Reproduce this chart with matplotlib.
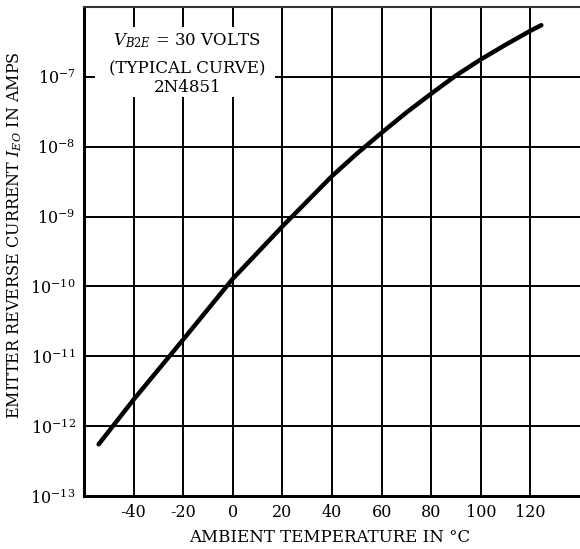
import matplotlib
matplotlib.use('Agg')
import matplotlib.pyplot as plt
from matplotlib.patches import Rectangle

# Typical curve (log10 of amps)
temp_c = [-54.1, -40, -20, 0, 20, 30, 40, 50, 60, 70, 80, 90, 100, 110, 120, 124.4]
log_current = [-12.26, -11.62, -10.76, -9.89, -9.14, -8.78, -8.42, -8.10, -7.80,
               -7.51, -7.24, -6.98, -6.75, -6.54, -6.34, -6.26]
current_a = [10 ** v for v in log_current]

x_ticks = [-40, -20, 0, 20, 40, 60, 80, 100, 120]
y_ticks = [1e-13, 1e-12, 1e-11, 1e-10, 1e-9, 1e-8, 1e-7]

plt.rcParams['font.family'] = 'DejaVu Serif'
plt.rcParams['mathtext.fontset'] = 'dejavuserif'

fig = plt.figure(figsize=(5.8, 5.49), dpi=100)
ax = fig.add_axes([0.1448, 0.0965, 0.8552, 0.8907])

ax.set_yscale('log')
ax.set_xlim(-60, 140)
ax.set_ylim(1e-13, 1e-6)
ax.set_xticks(x_ticks)
ax.set_xticklabels([str(t) for t in x_ticks])
ax.set_yticks(y_ticks)
ax.set_yticklabels([r'$10^{-%d}$' % k for k in range(13, 6, -1)])
ax.minorticks_off()
ax.tick_params(length=0, labelsize=11.5, pad=6)

ax.grid(True, color='black', linewidth=1.4)
for side in ['left', 'bottom']:
    ax.spines[side].set_linewidth(2.2)
ax.spines['top'].set_linewidth(1.5)
ax.spines['top'].set_color('#333333')
ax.spines['right'].set_visible(False)

ax.plot(temp_c, current_a, color='black', linewidth=3.2,
        solid_capstyle='round', solid_joinstyle='round', zorder=5)

# white patch behind the annotation, covering the grid
ax.add_patch(Rectangle((0.022, 0.816), 0.363, 0.143, transform=ax.transAxes,
                       facecolor='white', edgecolor='none', zorder=3))
ax.text(0.208, 0.932, r'$V_{B2E}$ = 30 VOLTS', transform=ax.transAxes,
        ha='center', va='center', fontsize=12, zorder=4)
ax.text(0.208, 0.873, '(TYPICAL CURVE)', transform=ax.transAxes,
        ha='center', va='center', fontsize=12, zorder=4)
ax.text(0.208, 0.836, '2N4851', transform=ax.transAxes,
        ha='center', va='center', fontsize=12, zorder=4)

fig.text(15 / 580, 1 - 235 / 549, r'EMITTER REVERSE CURRENT $I_{EO}$ IN AMPS',
         rotation=90, ha='center', va='center', fontsize=11.5)
fig.text(330 / 580, 1 - 538 / 549, 'AMBIENT TEMPERATURE IN °C',
         ha='center', va='center', fontsize=12)

fig.savefig('out.png', dpi=100)
